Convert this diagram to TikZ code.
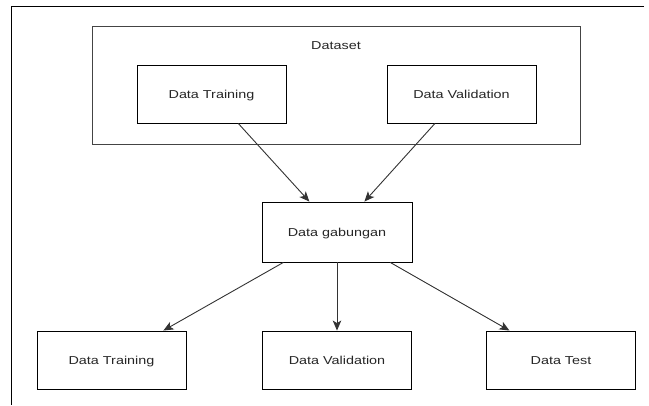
\documentclass[tikz,border=0pt]{standalone}
\usepackage{fontspec}
\setmainfont{Liberation Sans}[FakeStretch=1.25]
\usetikzlibrary{arrows.meta}
\definecolor{boxgray}{HTML}{444444}
\definecolor{linegray}{HTML}{333333}
\begin{document}
\begin{tikzpicture}[x=1pt,y=-1pt,
  box/.style={draw=black,line width=0.9pt,minimum width=149pt,minimum height=58pt,inner sep=0pt,font=\fontsize{11.5}{13}\selectfont,text=black!85,text height=8.2pt,text depth=0pt},
  conn/.style={draw=linegray,line width=0.9pt,-{Stealth[length=10pt,width=8.5pt,inset=2.5pt]}}]
\useasboundingbox (0,0) rectangle (649,405);
\draw[line width=0.9pt] (644,6) -- (11,6) -- (11,405);
\node[draw=boxgray,line width=0.9pt,minimum width=488pt,minimum height=118pt,inner sep=0pt] (ds) at (336,85) {};
\node[font=\fontsize{11.5}{13}\selectfont,text=black!85,text height=8.2pt,text depth=0pt] (dslabel) at (336,45) {Dataset};
\node[box] (tr1) at (211.5,94) {Data Training};
\node[box] (va1) at (461.5,94) {Data Validation};
\node[box,minimum width=150pt,minimum height=60pt] (gab) at (337,232) {Data gabungan};
\node[box] (tr2) at (111.5,360) {Data Training};
\node[box] (va2) at (337,360) {Data Validation};
\node[box] (te2) at (561,360) {Data Test};
\draw[conn] (tr1) -- (gab);
\draw[conn] (va1) -- (gab);
\draw[conn] (gab) -- (tr2);
\draw[conn] (gab) -- (va2);
\draw[conn] (gab) -- (te2);
\end{tikzpicture}
\end{document}
